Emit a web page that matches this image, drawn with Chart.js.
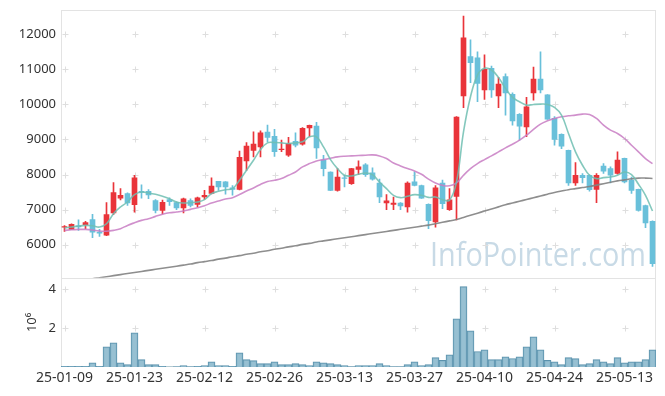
<!DOCTYPE html>
<html>
<head>
<meta charset="utf-8">
<script src="https://cdn.jsdelivr.net/npm/chart.js@4.4.1/dist/chart.umd.min.js"></script>
<style>
  html, body { margin: 0; padding: 0; background: #fff; }
  #wrap { width: 665px; height: 396px; }
</style>
</head>
<body>
<div id="wrap"><canvas id="stockChart" width="665" height="396"></canvas></div>
<script>
// trading days (YY-MM-DD)
const dates = [
  '25-01-09','25-01-10','25-01-13','25-01-14','25-01-15','25-01-16','25-01-17','25-01-20','25-01-21','25-01-22',
  '25-01-23','25-01-24','25-01-31','25-02-03','25-02-04','25-02-05','25-02-06','25-02-07','25-02-10','25-02-11',
  '25-02-12','25-02-13','25-02-14','25-02-17','25-02-18','25-02-19','25-02-20','25-02-21','25-02-24','25-02-25',
  '25-02-26','25-02-27','25-02-28','25-03-04','25-03-05','25-03-06','25-03-07','25-03-10','25-03-11','25-03-12',
  '25-03-13','25-03-14','25-03-17','25-03-18','25-03-19','25-03-20','25-03-21','25-03-24','25-03-25','25-03-26',
  '25-03-27','25-03-28','25-03-31','25-04-01','25-04-02','25-04-03','25-04-04','25-04-07','25-04-08','25-04-09',
  '25-04-10','25-04-11','25-04-14','25-04-15','25-04-16','25-04-17','25-04-18','25-04-21','25-04-22','25-04-23',
  '25-04-24','25-04-25','25-04-28','25-04-29','25-04-30','25-05-02','25-05-07','25-05-08','25-05-09','25-05-12',
  '25-05-13','25-05-14','25-05-15','25-05-16','25-05-19'
];

const opens = [
  6500, 6440, 6540, 6570, 6720, 6360, 6270, 6910, 7330, 7460,
  7140, 7520, 7520, 7260, 6980, 7290, 7200, 7050, 7260, 7150,
  7360, 7460, 7810, 7790, 7620, 7580, 8390, 8690, 8790, 9210,
  9090, 8710, 8550, 8950, 8870, 9330, 9380, 8410, 8070, 7550,
  7910, 7740, 8150, 8280, 8050, 7760, 7190, 7150, 7190, 7080,
  7790, 7690, 7150, 6650, 7760, 7000, 7380, 10240, 11360, 11330,
  10410, 11030, 10240, 10790, 10290, 9720, 9360, 10330, 10720, 10270,
  9600, 9150, 8690, 7760, 7980, 7980, 7580, 8240, 8170, 8030,
  8460, 7840, 7580, 7120, 6670
];
const highs = [
  6550, 6600, 6710, 6670, 6870, 6440, 7200, 7770, 7600, 7480,
  7980, 7710, 7570, 7290, 7270, 7340, 7220, 7330, 7310, 7360,
  7550, 7910, 7810, 7800, 7690, 8670, 8910, 9220, 9250, 9410,
  9290, 8980, 9060, 9190, 9340, 9410, 9490, 8550, 8080, 8170,
  7980, 8180, 8390, 8310, 8190, 7870, 7430, 7360, 7200, 7790,
  8080, 7700, 7170, 7690, 7840, 7600, 9650, 12520, 11840, 11500,
  11410, 11090, 10770, 10870, 10330, 9740, 10200, 11060, 11500, 10280,
  9650, 9160, 8700, 8340, 8030, 7990, 8030, 8310, 8220, 8650,
  8470, 7930, 7590, 7130, 6680
];
const lows = [
  6380, 6430, 6410, 6460, 6200, 6240, 6260, 6860, 7280, 7120,
  6930, 7330, 7310, 6910, 6880, 7120, 7000, 6910, 7080, 7080,
  7290, 7450, 7550, 7440, 7410, 7560, 8120, 8500, 8500, 8930,
  8520, 8650, 8520, 8790, 8840, 9080, 8460, 7960, 7540, 7530,
  7650, 7720, 8000, 7950, 7840, 7200, 7000, 7000, 7000, 6930,
  7680, 7320, 6460, 6500, 7030, 6980, 6710, 9910, 10620, 10080,
  10140, 10200, 9910, 9690, 9410, 8980, 9080, 10120, 10330, 9570,
  8840, 8740, 7690, 7690, 7760, 7530, 7200, 8030, 7760, 8010,
  7760, 7460, 6960, 6490, 5380
];
const closes = [
  6520, 6580, 6510, 6630, 6360, 6330, 6860, 7490, 7410, 7190,
  7910, 7490, 7420, 6980, 7210, 7230, 7050, 7310, 7120, 7340,
  7410, 7670, 7650, 7650, 7580, 8490, 8810, 8870, 9190, 9060,
  8650, 8730, 8880, 8840, 9320, 9400, 8760, 8170, 7550, 7930,
  7890, 8170, 8220, 8000, 7870, 7360, 7250, 7190, 7110, 7760,
  7690, 7330, 6690, 7620, 7170, 7280, 9640, 11900, 11190, 10600,
  11000, 10410, 10580, 10330, 9530, 9380, 9930, 10720, 10410, 9580,
  9000, 8810, 7760, 7980, 7910, 7570, 7980, 8100, 7980, 8410,
  7790, 7550, 6980, 6620, 5460
];

// volume, in units of 10^6 shares
const volumes = [
  0.03, 0.03, 0.03, 0.03, 0.22, 0.03, 1.04, 1.25, 0.22, 0.12,
  1.76, 0.38, 0.12, 0.12, 0.03, 0.01, 0.02, 0.07, 0.02, 0.03,
  0.07, 0.27, 0.07, 0.07, 0.03, 0.73, 0.38, 0.33, 0.17, 0.17,
  0.27, 0.12, 0.12, 0.17, 0.12, 0.07, 0.27, 0.22, 0.17, 0.12,
  0.07, 0.02, 0.07, 0.07, 0.07, 0.17, 0.07, 0.02, 0.02, 0.12,
  0.27, 0.07, 0.12, 0.48, 0.34, 0.63, 2.48, 4.14, 1.86, 0.80,
  0.89, 0.38, 0.38, 0.53, 0.44, 0.53, 1.04, 1.56, 0.89, 0.34,
  0.27, 0.12, 0.48, 0.43, 0.12, 0.17, 0.38, 0.27, 0.17, 0.48,
  0.22, 0.27, 0.27, 0.38, 0.89
];

// moving average lines
const maShort = [
  6476, 6504, 6533, 6552, 6542, 6504, 6600, 6885, 7076, 7218,
  7428, 7504, 7476, 7438, 7385, 7313, 7218, 7189, 7199, 7218,
  7285, 7456, 7523, 7570, 7599, 7837, 8123, 8408, 8713, 8904,
  8914, 8904, 8885, 8904, 8933, 9075, 9075, 8790, 8428, 8170,
  7980, 7961, 8009, 8047, 7999, 7790, 7599, 7409, 7342, 7380,
  7428, 7409, 7350, 7361, 7285, 7266, 7790, 9218, 10218, 10837,
  11028, 10980, 10770, 10456, 10199, 10075, 9980, 9999, 10009, 9999,
  9913, 9694, 9170, 8647, 8266, 7980, 7885, 7913, 7932, 7980,
  8075, 7999, 7723, 7409, 6961
];
const maMid = [
  6409, 6428, 6438, 6438, 6420, 6390, 6385, 6409, 6457, 6552,
  6628, 6695, 6742, 6809, 6870, 6913, 6932, 6961, 7008, 7056,
  7113, 7189, 7246, 7304, 7342, 7430, 7530, 7620, 7720, 7800,
  7837, 7885, 7980, 8075, 8218, 8313, 8389, 8427, 8466, 8504,
  8523, 8532, 8542, 8551, 8561, 8532, 8456, 8332, 8247, 8170,
  8104, 8009, 7870, 7761, 7694, 7680, 7761, 7980, 8170, 8313,
  8427, 8532, 8647, 8761, 8866, 8980, 9123, 9285, 9437, 9533,
  9599, 9647, 9675, 9694, 9723, 9713, 9599, 9409, 9266, 9170,
  9028, 8837, 8647, 8456, 8313
];
const maLong = [
  4900, 4930, 4960, 4990, 5030, 5060, 5090, 5120, 5150, 5180,
  5210, 5240, 5270, 5300, 5330, 5360, 5390, 5420, 5450, 5490,
  5520, 5550, 5590, 5620, 5660, 5690, 5730, 5760, 5800, 5830,
  5870, 5900, 5940, 5970, 6010, 6040, 6080, 6110, 6140, 6170,
  6200, 6230, 6260, 6290, 6320, 6350, 6380, 6410, 6440, 6470,
  6500, 6530, 6560, 6600, 6640, 6680, 6720, 6780, 6840, 6900,
  6960, 7020, 7080, 7140, 7190, 7240, 7290, 7340, 7390, 7440,
  7490, 7530, 7570, 7600, 7630, 7660, 7700, 7740, 7780, 7820,
  7850, 7880, 7900, 7900, 7890
];

const priceTicks = [6000, 7000, 8000, 9000, 10000, 11000, 12000];
const volumeTicks = [2, 4];

const UP = '#e9343a';
const DOWN = '#69c0da';
const candleColors = closes.map((c, i) => (c >= opens[i] ? UP : DOWN));

// grid crosses, panel frames and the watermark
const decor = {
  id: 'decor',
  beforeDatasetsDraw(chart) {
    const { ctx, scales } = chart;
    const x = scales.x, y = scales.y, yv = scales.yv;
    ctx.save();

    // watermark, squeezed to the width it has in the original
    ctx.font = '32.5px "Open Sans"';
    const w = ctx.measureText('InfoPointer.com').width;
    ctx.save();
    ctx.translate(430, 266);
    ctx.scale(216 / w, 1);
    ctx.fillStyle = 'rgb(200,218,230)';
    ctx.textAlign = 'left';
    ctx.textBaseline = 'alphabetic';
    ctx.fillText('InfoPointer.com', 0, 0);
    ctx.restore();

    // frames
    ctx.strokeStyle = '#e3e3e3';
    ctx.lineWidth = 1;
    const l = Math.round(x.left) + 0.5, r = Math.round(x.right) - 0.5;
    ctx.strokeRect(l, Math.round(y.top) + 0.5, r - l, Math.round(y.bottom) - Math.round(y.top));
    ctx.strokeRect(l, Math.round(yv.top) + 0.5, r - l, Math.round(yv.bottom) - Math.round(yv.top) - 1);

    // small crosses where the grid lines would meet
    ctx.strokeStyle = '#dedede';
    const xs = [];
    dates.forEach((d, i) => { if (i % 10 === 0) xs.push(Math.round(x.getPixelForValue(i)) + 0.5); });
    const ys = priceTicks.map(v => Math.round(y.getPixelForValue(v)) + 0.5)
      .concat(volumeTicks.map(v => Math.round(yv.getPixelForValue(v)) + 0.5));
    ctx.beginPath();
    xs.forEach(px => {
      ys.forEach(py => {
        ctx.moveTo(px - 3, py); ctx.lineTo(px + 3, py);
        ctx.moveTo(px, py - 3); ctx.lineTo(px, py + 3);
      });
    });
    ctx.stroke();
    ctx.restore();
  }
};

const yFont = { family: '"Noto Sans", sans-serif', size: 13 };
const xFont = { family: '"Noto Sans", sans-serif', size: 14 };

new Chart(document.getElementById('stockChart'), {
  data: {
    labels: dates,
    datasets: [
      {
        type: 'line', data: maShort, yAxisID: 'y', order: 0,
        borderColor: 'rgba(110,190,178,0.85)', borderWidth: 1.6,
        pointRadius: 0, tension: 0.4
      },
      {
        type: 'line', data: maMid, yAxisID: 'y', order: 0,
        borderColor: 'rgba(200,125,195,0.85)', borderWidth: 1.6,
        pointRadius: 0, tension: 0.4
      },
      {
        type: 'line', data: maLong, yAxisID: 'y', order: 0,
        borderColor: 'rgba(130,130,130,0.9)', borderWidth: 1.6,
        pointRadius: 0, tension: 0.4
      },
      {
        type: 'bar', data: opens.map((o, i) => [o, closes[i]]), yAxisID: 'y', order: 2,
        backgroundColor: candleColors, barThickness: 5, grouped: false, borderWidth: 0
      },
      {
        type: 'bar', data: lows.map((lo, i) => [lo, highs[i]]), yAxisID: 'y', order: 3,
        backgroundColor: candleColors, barThickness: 1, grouped: false, borderWidth: 0
      },
      {
        type: 'bar', data: volumes, yAxisID: 'yv', order: 4,
        backgroundColor: 'rgba(140,185,205,0.9)', borderColor: '#5b92ad', borderWidth: 1,
        barPercentage: 1, categoryPercentage: 1, grouped: false
      }
    ]
  },
  options: {
    responsive: false,
    animation: false,
    devicePixelRatio: 1,
    layout: { padding: { top: 10, right: 9, bottom: 0, left: 0 } },
    plugins: { legend: { display: false }, tooltip: { enabled: false } },
    scales: {
      x: {
        type: 'category',
        offset: true,
        grid: { display: false, drawTicks: false },
        border: { display: false },
        ticks: {
          autoSkip: false, maxRotation: 0, padding: 3,
          font: xFont, color: '#333',
          callback: function (v, i) { return i % 10 === 0 ? this.getLabelForValue(v) : null; }
        },
        afterFit: s => { s.height = 29; s.paddingLeft = 0; s.paddingRight = 0; }
      },
      y: {
        position: 'left', stack: 'panels', stackWeight: 3, weight: 1,
        min: 5060, max: 12690,
        grid: { display: false, drawTicks: false },
        border: { display: false },
        ticks: { padding: 5, font: yFont, color: '#333', callback: v => String(v) },
        afterBuildTicks: s => { s.ticks = priceTicks.map(v => ({ value: v })); },
        afterFit: s => { s.width = 61; s.paddingTop = 0; s.paddingBottom = 0; }
      },
      yv: {
        position: 'left', stack: 'panels', stackWeight: 1, weight: 0,
        min: 0, max: 4.6,
        grid: { display: false, drawTicks: false },
        border: { display: false },
        ticks: { padding: 5, font: yFont, color: '#333', callback: v => String(v) },
        afterBuildTicks: s => { s.ticks = volumeTicks.map(v => ({ value: v })); },
        title: { display: true, text: '10⁶', font: yFont, color: '#333', padding: { top: 24, bottom: 0 } },
        afterFit: s => { s.width = 61; s.paddingTop = 0; s.paddingBottom = 0; }
      }
    }
  },
  plugins: [decor]
});
</script>
</body>
</html>
